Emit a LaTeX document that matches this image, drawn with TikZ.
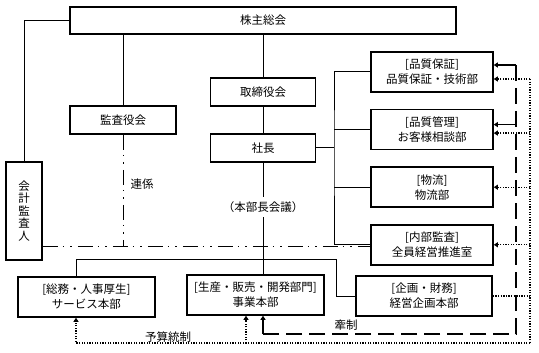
\documentclass[tikz,border=0pt]{standalone}
\usepackage{fontspec}
\newfontfamily\jpfont{Noto Sans CJK JP}
\usetikzlibrary{arrows.meta,positioning}

\begin{document}
\begin{tikzpicture}[
        x=1pt, y=-1pt,
        box/.style={draw=black, line width=1.6pt, fill=white, align=center,
            inner sep=0pt, font=\jpfont\fontsize{11.5}{15}\selectfont},
        unit/.style={box, minimum width=122pt, minimum height=40pt},
        honbu/.style={box, minimum width=137pt, minimum height=40pt},
        link/.style={draw, line width=1pt},
        renkei/.style={link, dash pattern=on 15pt off 5pt on 1.5pt off 6pt on 1.5pt off 6pt},
        kensei/.style={link, line width=1.3pt, dash pattern=on 16pt off 7pt},
        yosan/.style={link, line width=1.3pt, dash pattern=on 1.3pt off 1.3pt},
        arr/.style={-{Triangle[length=4pt,width=5pt]}},
        note/.style={font=\jpfont\fontsize{11.5}{14}\selectfont},
        node distance=16pt,
    ]
        \useasboundingbox (0,0) rectangle (539,353);

        \node[box, minimum width=386pt, minimum height=27pt] (soukai) at (263,20.5) {株主総会};
        \node[box, minimum width=106pt, minimum height=28pt] (kansa) at (123,120) {監査役会};
        \node[box, minimum width=105pt, minimum height=28pt] (torishimari) at (263,92) {取締役会};
        \node[box, minimum width=105pt, minimum height=28pt] (shacho) at (263,148) {社長};
        \node[box, minimum width=36pt, minimum height=98pt,
            font=\jpfont\fontsize{11.5}{12.5}\selectfont] (kaikei) at (24,211) {会\\計\\監\\査\\人};

        \node[unit] (hoshou) at (432,72) {[品質保証]\\品質保証・技術部};
        \node[unit] (kanri) [below=of hoshou] {[品質管理]\\お客様相談部};
        \node[unit] (butsuryu) [below=of kanri] {[物流]\\物流部};
        \node[unit] (naibu) [below=of butsuryu] {[内部監査]\\全員経営推進室};

        \node[honbu] (somu) at (86.5,297) {[総務・人事厚生]\\サービス本部};
        \node[honbu] (jigyo) at (255.5,295) {[生産・販売・開発部門]\\事業本部};
        \node[box, minimum width=136pt, minimum height=40pt] (kikaku) at (424,296) {[企画・財務]\\経営企画本部};

        \coordinate (bus) at (334,148);
        \coordinate (s) at (76,259);
        \coordinate (k) at (336,259);
        \coordinate (rk) at (123,246);

        % solid lines
        \draw[link] (soukai.west) -| (kaikei.north);
        \draw[link] (kansa.north |- soukai.south) -- (kansa.north);
        \draw[link] (soukai) -- (torishimari) -- (shacho);
        \draw[link] (shacho.east) -- (bus);
        \draw[link] (hoshou.west) -| (bus) |- (naibu.west);
        \draw[link] (kanri.west) -- (kanri.west -| bus);
        \draw[link] (butsuryu.west) -- (butsuryu.west -| bus);
        \draw[link] (shacho.south) -- (shacho.south |- jigyo.north);
        \draw[link] (somu.north -| s) -- (s) -- (k) |- (kikaku.west);
        \node[note, fill=white, inner xsep=1pt, inner ysep=5pt] (kaigi) at (263,207) {（本部長会議）};

        % dash-dot line
        \draw[renkei] (kansa.south) -- (rk);
        \draw[renkei] (kaikei.east |- rk) -- (naibu.west |- rk);
        \node[note] (renkeitxt) at (142,184) {連係};

        % dashed line
        \coordinate (kt) at (516,65);
        \coordinate (kb) at (516,334);
        \coordinate (kj) at (263,334);
        \draw[kensei] (kt) -- (kb) -- (kj);
        \draw[link, line width=1.3pt, arr] (kj) -- (kj |- jigyo.south);
        \draw[link, line width=1.3pt, arr] (kt) -- (kt -| hoshou.east);
        \draw[link, line width=1.3pt, arr] ([yshift=5pt]kanri.east -| kt) -- ([yshift=5pt]kanri.east);
        \node[note] (kenseitxt) at (346,325) {牽制};

        % dotted line
        \coordinate (yt) at (530,79);
        \coordinate (yb) at (530,343);
        \coordinate (yj) at (246,343);
        \draw[yosan] (kikaku.east) -- (kikaku.east -| yt);
        \draw[yosan] (yt) -- (yb);
        \draw[yosan, arr] (yb) -| (somu.south -| s);
        \draw[yosan, arr] (yj) -- (yj |- jigyo.south);
        \draw[yosan, arr] ([yshift=-7pt]hoshou.east -| yt) -- ([yshift=-7pt]hoshou.east);
        \draw[yosan, arr] ([yshift=-3.5pt]kanri.east -| yt) -- ([yshift=-3.5pt]kanri.east);
        \draw[yosan, arr] (butsuryu.east -| yt) -- (butsuryu.east);
        \draw[yosan, arr] (naibu.east -| yt) -- (naibu.east);
        \node[note] (yosantxt) at (168,337) {予算統制};
    \end{tikzpicture}
\end{document}
